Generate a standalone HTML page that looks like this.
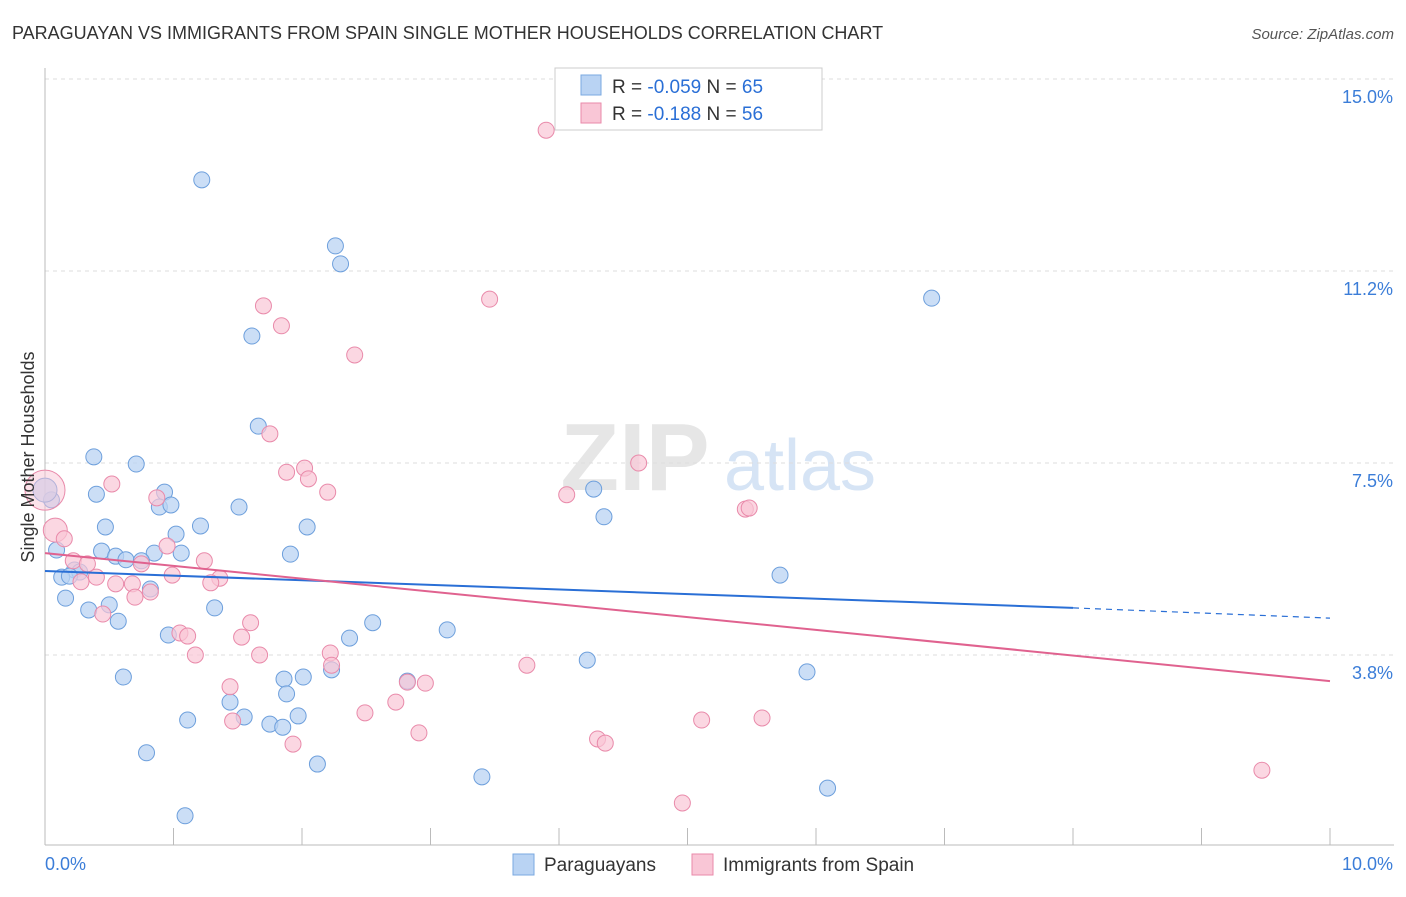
<!DOCTYPE html>
<html><head><meta charset="utf-8"><style>
body{margin:0;background:#fff;font-family:"Liberation Sans",sans-serif}
svg text{font-family:"Liberation Sans",sans-serif}
</style></head><body>
<svg id="chart" width="1406" height="892" xmlns="http://www.w3.org/2000/svg">
<text x="12" y="39" font-size="18" fill="#333">PARAGUAYAN VS IMMIGRANTS FROM SPAIN SINGLE MOTHER HOUSEHOLDS CORRELATION CHART</text>
<text x="1394" y="39" font-size="15" fill="#555" text-anchor="end" font-style="italic">Source: ZipAtlas.com</text>
<g>
<text x="635" y="490" font-size="96" fill="#e6e6e6" text-anchor="middle" font-family="Liberation Serif" font-weight="bold">ZIP</text>
<text x="800" y="490" font-size="72" fill="#d6e4f5" text-anchor="middle">atlas</text>
</g>
<g id="grid"></g>
<g id="axes"></g>
<g id="points"></g>
<g id="trends"></g>
<text transform="translate(34,457) rotate(-90)" font-size="18" fill="#333" text-anchor="middle">Single Mother Households</text>
<g>
<rect x="555" y="68" width="267" height="62" fill="#fff" stroke="#ccc"/>
<rect x="581" y="75" width="20" height="20" fill="#b9d3f3" stroke="#7aa8e0"/>
<rect x="581" y="103" width="20" height="20" fill="#f9c6d6" stroke="#e98aaa"/>
<text x="612" y="93" font-size="19" fill="#333">R = <tspan fill="#2a6fd6">-0.059</tspan>   N = <tspan fill="#2a6fd6">65</tspan></text>
<text x="612" y="120" font-size="19" fill="#333">R =  <tspan fill="#2a6fd6">-0.188</tspan>   N = <tspan fill="#2a6fd6">56</tspan></text>
</g>
<g>
<rect x="513" y="854" width="21" height="21" fill="#b9d3f3" stroke="#7aa8e0"/>
<text x="544" y="871" font-size="19" fill="#333">Paraguayans</text>
<rect x="692" y="854" width="21" height="21" fill="#f9c6d6" stroke="#e98aaa"/>
<text x="723" y="871" font-size="19" fill="#333">Immigrants from Spain</text>
</g>
</svg>
<script>
const blueX=[1.22,2.26,2.30,6.90,1.61,1.66,0.38,0.71,0.40,0.93,0.05,0.89,0.98,1.51,1.21,0.47,2.04,4.27,4.35,1.02,0.09,0.44,0.55,0.85,1.06,0.63,0.75,1.91,0.23,0.27,0.13,0.19,0.82,0.16,0.50,0.34,1.32,0.57,2.55,0.96,2.37,3.13,5.72,4.22,5.93,0.61,2.23,1.86,2.01,2.82,1.44,1.88,1.55,1.11,1.97,1.75,1.85,0.79,2.12,3.40,6.09,1.09,0.0];
const blueY=[13.03,11.74,11.39,10.72,9.98,8.22,7.62,7.48,6.89,6.93,6.78,6.64,6.68,6.64,6.27,6.25,6.25,6.99,6.45,6.11,5.80,5.78,5.68,5.74,5.74,5.61,5.59,5.72,5.41,5.37,5.27,5.29,5.04,4.86,4.73,4.63,4.67,4.41,4.38,4.14,4.08,4.24,5.31,3.65,3.42,3.32,3.46,3.28,3.32,3.24,2.83,2.99,2.54,2.48,2.56,2.40,2.34,1.84,1.62,1.37,1.15,0.61,6.97];
const pinkX=[3.90,3.46,1.70,1.84,2.41,1.75,4.62,1.88,2.02,2.05,0.52,2.20,0.87,4.06,5.45,5.48,0.08,0.15,0.95,1.24,0.22,0.33,0.75,0.99,1.36,0.40,0.28,0.55,0.68,1.29,0.82,0.70,0.45,1.05,1.11,1.53,1.60,1.17,1.67,2.22,2.23,3.75,1.44,2.96,2.82,2.73,2.49,1.46,5.11,5.58,2.91,1.93,4.30,4.36,9.47,4.96,0.0];
const pinkY=[14.00,10.70,10.57,10.18,9.61,8.07,7.50,7.32,7.40,7.19,7.09,6.93,6.82,6.88,6.60,6.62,6.19,6.02,5.88,5.59,5.59,5.53,5.53,5.31,5.25,5.27,5.18,5.14,5.14,5.16,4.98,4.88,4.55,4.18,4.12,4.10,4.38,3.75,3.75,3.79,3.55,3.55,3.13,3.20,3.22,2.83,2.62,2.46,2.48,2.52,2.23,2.01,2.11,2.03,1.50,0.86,6.97];
const yTicks=[3.75,7.5,11.25,15];
const yTickLabels=["3.8%","7.5%","11.2%","15.0%"];
const xTicks=[0,1,2,3,4,5,6,7,8,9,10];
const blueTrend=[5.39,4.67,4.47]; // at x=0, 8 (solid end), 10
const pinkTrend=[5.74,3.24];     // at x=0, 10
const NS="http://www.w3.org/2000/svg";
const sx=v=>45+v*128.5, sy=v=>79+(15-v)*51.2;
function mk(tag,attrs,parent){const e=document.createElementNS(NS,tag);for(const k in attrs)e.setAttribute(k,attrs[k]);document.getElementById(parent).appendChild(e);return e;}
yTicks.forEach((t,i)=>{
  const l=mk('line',{x1:45,x2:1394,y1:sy(t),y2:sy(t),stroke:'#ddd','stroke-dasharray':'4,4'},'grid');
  
  
  const tx=mk('text',{x:1393,y:sy(t)+24,'font-size':18,fill:'#3b7dd8','text-anchor':'end'},'axes');
  tx.textContent=yTickLabels[i];
  
  
});
const ya=mk('line',{x1:45,x2:45,y1:68,y2:845,stroke:'#bbb'},'axes');


const xa=mk('line',{x1:45,x2:1394,y1:845,y2:845,stroke:'#bbb'},'axes');


xTicks.forEach(t=>{
  const l=mk('line',{x1:sx(t),x2:sx(t),y1:828,y2:845,stroke:'#bbb'},'axes');
  
  
});
const xl0=mk('text',{x:45,y:870,'font-size':18,fill:'#3b7dd8'},'axes');xl0.textContent=xTicks[0].toFixed(1)+'%';


const xl1=mk('text',{x:1393,y:870,'font-size':18,fill:'#3b7dd8','text-anchor':'end'},'axes');xl1.textContent=xTicks[xTicks.length-1].toFixed(1)+'%';


blueX.forEach((x,i)=>{
  const big=i===blueX.length-1;
  const c=mk('circle',{cx:sx(x),cy:sy(blueY[i]),r:big?12:8,fill:'#b9d3f3','fill-opacity':0.75,stroke:'#6d9fdc','stroke-width':1},'points');
  
  
});
pinkX.forEach((x,i)=>{
  const big=i===pinkX.length-1, med=i===16;
  const c=mk('circle',{cx:sx(x),cy:sy(pinkY[i]),r:big?20:(med?12:8),fill:'#f9c6d6','fill-opacity':big?0.5:0.7,stroke:'#e98aaa','stroke-width':1},'points');
  
  
});
const bt=mk('line',{x1:sx(0),y1:sy(blueTrend[0]),x2:sx(8),y2:sy(blueTrend[1]),stroke:'#2a6fd6','stroke-width':2},'trends');


const bd=mk('line',{x1:sx(8),y1:sy(blueTrend[1]),x2:sx(10),y2:sy(blueTrend[2]),stroke:'#2a6fd6','stroke-width':1.2,'stroke-dasharray':'6,5'},'trends');


const pt=mk('line',{x1:sx(0),y1:sy(pinkTrend[0]),x2:sx(10),y2:sy(pinkTrend[1]),stroke:'#e0628f','stroke-width':2},'trends');


</script>
</body></html>
